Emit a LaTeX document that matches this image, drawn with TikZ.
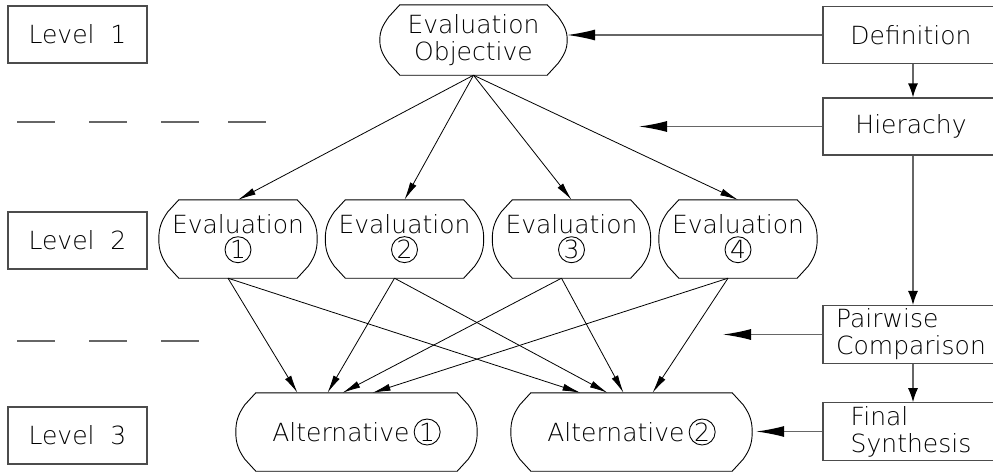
\documentclass[tikz,border=0pt]{standalone}
\usepackage{fontspec}
\setmainfont{DejaVu Sans ExtraLight}
\usetikzlibrary{arrows.meta}

% circled digit and the flattened capsule outline
\newcommand{\circnum}[1]{\tikz[baseline=(c.base)]\node[draw,circle,line width=.9pt,inner sep=0pt,minimum size=26pt](c){#1};}
\newcommand{\capsule}[1]{%
  \draw[line width=.9pt] ([xshift=20pt]#1.north west) -- ([xshift=-20pt]#1.north east)
    -- ([xshift=-9pt,yshift=-12pt]#1.north east) to[out=-55,in=90] (#1.east)
    to[out=-90,in=55] ([xshift=-9pt,yshift=12pt]#1.south east)
    -- ([xshift=-20pt]#1.south east) -- ([xshift=20pt]#1.south west)
    -- ([xshift=9pt,yshift=12pt]#1.south west) to[out=125,in=-90] (#1.west)
    to[out=90,in=-125] ([xshift=9pt,yshift=-12pt]#1.north west) -- cycle;}

\begin{document}
\begin{tikzpicture}[x=1pt, y=-1pt,
  font=\fontsize{25}{27}\selectfont,
  levelbox/.style={draw=black!70, line width=1.2pt, minimum width=139pt, minimum height=57pt},
  stagebox/.style={draw=black!70, line width=1.2pt, minimum width=176pt, minimum height=57pt, align=left},
  capsnode/.style={minimum width=#1, minimum height=78pt, align=center, inner sep=0pt},
  link/.style={-{Latex[length=18pt,width=7pt]}, line width=.8pt},
  feed/.style={-{Latex[length=28pt,width=11pt,color=black]}, draw=black!60, line width=1.3pt},
  flowdown/.style={-{Latex[length=14pt,width=10pt,color=black]}, draw=black!60, line width=1.3pt},
  levelsep/.style={draw=black!60, line width=1.3pt}
]
\useasboundingbox (0,0) rectangle (993,472);

% levels
\node[levelbox] (lv1) at (77.5,34.5) {Level\ \ 1};
\node[levelbox] (lv2) at (77.5,240.5) {Level\ \ 2};
\node[levelbox] (lv3) at (77.5,435.5) {Level\ \ 3};
\foreach \x in {17,89,161,228} \draw[levelsep] (\x,122) -- +(38,0);
\foreach \x in {17,89,161} \draw[levelsep] (\x,341) -- +(38,0);

% hierarchy
\node[capsnode=187pt, minimum height=70pt] (obj) at (473.5,40) {Evaluation\\Objective};
\foreach \i/\x in {1/238,2/404.5,3/571.5,4/738}
  \node[capsnode=158pt] (ev\i) at (\x,239) {Evaluation\\[-2pt]\circnum{\i}};
\node[capsnode=241pt] (alt1) at (356.5,432) {Alternative\,\circnum{1}};
\node[capsnode=241pt] (alt2) at (631.5,432) {Alternative\,\circnum{2}};
\foreach \n in {obj,ev1,ev2,ev3,ev4,alt1,alt2} \capsule{\n};

\foreach \i in {1,...,4} \draw[link] (obj.south) -- (ev\i.north);
\foreach \i/\a/\b in {1/-59/-51, 2/-29/-24, 3/-14/-8, 4/16/21} {
  \draw[link] ([xshift=-10pt]ev\i.south) -- ([xshift=\a pt]alt1.north);
  \draw[link] ([xshift=-10pt]ev\i.south) -- ([xshift=\b pt]alt2.north);
}

% procedure
\node[stagebox] (def) at (911,35) {Definition};
\node[stagebox] (hier) at (911,126.5) {Hierachy};
\node[stagebox] (pair) at (911,334.5) {Pairwise\\Comparison};
\node[stagebox] (fin) at (911,431.5) {Final\\Synthesis};
\draw[flowdown] ([xshift=2pt]def.south) -- ([xshift=2pt]hier.north);
\draw[flowdown] ([xshift=2pt]hier.south) -- ([xshift=2pt]pair.north);
\draw[flowdown] ([xshift=2pt]pair.south) -- ([xshift=2pt]fin.north);

\coordinate (hierend) at (639,126.5);
\coordinate (pairend) at (723,334.5);
\draw[feed] (def.west) -- (obj.east |- def.west);
\draw[feed] (hier.west) -- (hierend);
\draw[feed] (pair.west) -- (pairend);
\draw[feed] (fin.west) -- ([xshift=4pt]alt2.east |- fin.west);
\end{tikzpicture}
\end{document}
